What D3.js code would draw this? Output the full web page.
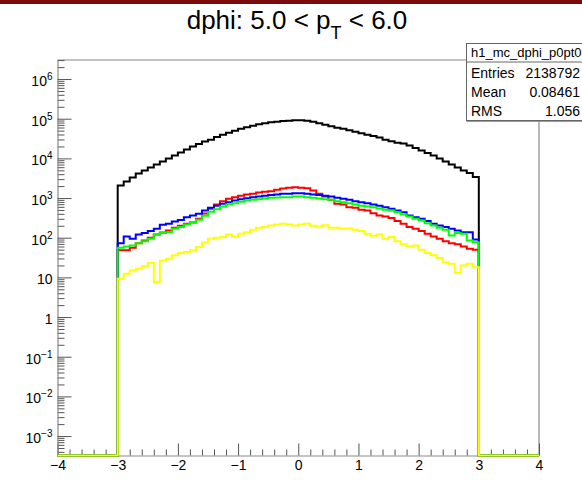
<!DOCTYPE html>
<html><head><meta charset="utf-8">
<script src="https://cdn.jsdelivr.net/npm/d3@7"></script>
<style>body{margin:0;background:#fff}svg{display:block}text{font-family:"Liberation Sans",Arial,Helvetica,sans-serif}</style>
</head><body><div id="c"></div>
<script>
// ---- data ----
const histName = "h1_mc_dphi_p0pt0";
const statLabels = ["Entries", "Mean", "RMS"];
const statValues = ["2138792", "0.08461", "1.056"];
const xStart = -3, binWidth = 0.1;            // filled bins span -3..3
const xTicksMajor = [-4, -3, -2, -1, 0, 1, 2, 3, 4];
const yDecades = [-3, -2, -1, 0, 1, 2, 3, 4, 5, 6];
const seriesColors = ["#000000", "#ff0000", "#0000ff", "#00ff00", "#ffff00"];
const blackCounts = [2070,2610,3290,4150,4930,5870,6980,8310,9890,11760,13990,16650,19810,22900,26480,29700,34350,39700,44560,50000,56200,61250,66850,72900,77300,80900,84300,87800,89300,92000,92000,89300,84300,77300,70800,65000,59600,56200,51500,47200,43300,39700,36400,33400,29700,27200,24950,23550,21000,18150,15700,13600,11760,9890,8310,6980,5870,4930,4270,3390];
const redCounts = [48,48,56,73,85,100,121,136,153,178,200,225,243,301,409,537,688,833,958,1050,1139,1228,1279,1379,1436,1487,1612,1739,1811,1875,1811,1769,1549,1279,1094,904,717,688,589,569,506,486,416,364,343,315,262,225,185,168,147,126,108,94,82,73,68,60,53,50];
const blueCounts = [73,108,94,121,131,147,168,212,225,257,281,330,364,402,486,569,638,717,787,868,936,991,1050,1094,1139,1193,1228,1279,1279,1324,1324,1279,1228,1193,1139,1094,1015,958,904,833,787,742,688,638,589,537,486,441,364,330,301,262,225,204,185,168,153,138,138,90];
const greenCounts = [56,60,64,73,82,94,121,131,138,168,185,216,247,284,360,450,524,613,688,742,805,868,904,936,974,1015,1032,1050,1050,1094,1094,1050,1015,974,936,904,833,787,742,688,638,613,589,546,506,486,441,386,343,301,272,233,204,178,159,114,131,126,85,77];
const yellowCounts = [9.3,12.4,15.0,16.6,19.0,23.0,7.6,26.8,29.6,35.9,41,43.4,48,58,76,94,100,104,121,108,126,138,159,178,185,204,216,225,216,204,216,225,200,192,207,178,178,168,171,159,147,126,112,121,94,104,82,68,60,64,50,41,36,31,24,22,12.9,20,22,18];
const allSeries = [blackCounts, redCounts, blueCounts, greenCounts, yellowCounts];

// ---- layout ----
const W = 582, H = 480;
const F = {l: 57.5, r: 539, t: 60, b: 455.5};
const svg = d3.select("#c").append("svg").attr("width", W).attr("height", H);
svg.append("rect").attr("x",0).attr("y",0).attr("width",W).attr("height",H).attr("fill","#fff");
svg.append("rect").attr("x",0).attr("y",0).attr("width",W).attr("height",4).attr("fill","#7d0a0a");

const x = d3.scaleLinear().domain([-4, 4]).range([F.l, F.r]);
const y = d3.scaleLog().domain([Math.pow(10,-3.49), Math.pow(10,6.48)]).range([F.b, F.t]);

// frame
svg.append("path").attr("d",`M${F.l},${F.t}H${F.r}V${F.b}`).attr("fill","none").attr("stroke","#8a8a8a").attr("stroke-width",1.2);

// x axis
const xMinor = d3.range(-40, 41, 2).map(d => d/10).filter(d => !xTicksMajor.includes(d));
const gx = svg.append("g").attr("transform",`translate(0,${F.b})`);
gx.append("g").call(d3.axisBottom(x).tickValues(xMinor).tickSize(-6).tickSizeOuter(0).tickFormat(""))
  .call(g => g.select(".domain").remove());
gx.append("g").call(d3.axisBottom(x).tickValues(xTicksMajor).tickSize(-12).tickSizeOuter(0).tickPadding(5)
  .tickFormat(d => d < 0 ? "\u2212" + Math.abs(d) : String(d)))
  .call(g => g.select(".domain").attr("stroke","#8a8a8a").attr("stroke-width",1.2));
gx.selectAll(".tick line").attr("stroke","#555");
gx.selectAll("text").attr("font-size",14).attr("fill","#000").attr("font-family","Liberation Sans, Arial, sans-serif");

// y axis
const yMajorVals = yDecades.map(k => Math.pow(10, k));
const yMinorVals = [];
d3.range(-4, 7).forEach(k => { for (let m = 2; m <= 9; m++) { const v = m * Math.pow(10, k); if (v > y.domain()[0] && v < y.domain()[1]) yMinorVals.push(v); } });
const gy = svg.append("g").attr("transform",`translate(${F.l},0)`);
gy.append("g").call(d3.axisLeft(y).tickValues(yMinorVals).tickSize(-7).tickSizeOuter(0).tickFormat(""))
  .call(g => g.select(".domain").remove());
gy.append("g").call(d3.axisLeft(y).tickValues(yMajorVals).tickSize(-14).tickSizeOuter(0).tickPadding(5).tickFormat(""))
  .call(g => g.select(".domain").attr("stroke","#8a8a8a").attr("stroke-width",1.2));
gy.selectAll(".tick line").attr("stroke","#555");
// labels
const gyl = svg.append("g");
yDecades.forEach(k => {
  const t = gyl.append("text").attr("x", F.l - 5).attr("y", y(Math.pow(10,k)) + 7)
    .attr("text-anchor","end").attr("font-size",14).attr("fill","#000");
  if (k === 0) t.text("1");
  else if (k === 1) t.text("10");
  else {
    t.append("tspan").text("10");
    t.append("tspan").attr("dy",-6).attr("font-size",10).text(k < 0 ? "\u2212" + Math.abs(k) : String(k));
  }
});

// histograms
const line = d3.line();
function histPoints(vals) {
  const yv = v => v > 0 ? Math.min(y(v), F.b) : F.b;
  const pts = [[x(-4), F.b], [x(xStart), F.b]];
  vals.forEach((v, i) => {
    const x0 = xStart + i * binWidth, x1 = xStart + (i + 1) * binWidth;
    pts.push([x(x0), yv(v)], [x(x1), yv(v)]);
  });
  const xEnd = xStart + vals.length * binWidth;
  pts.push([x(xEnd), F.b], [x(4), F.b]);
  return pts;
}
svg.append("g").selectAll("path").data(allSeries).join("path")
  .attr("d", d => line(histPoints(d)))
  .attr("fill","none").attr("stroke",(d,i) => seriesColors[i]).attr("stroke-width",2)
  .attr("stroke-linejoin","miter");

// title
const title = svg.append("text").attr("x", 297).attr("y", 29).attr("text-anchor","middle").attr("font-size",26).attr("fill","#000");
title.append("tspan").text("dphi: 5.0 < p");
title.append("tspan").attr("dy",10).attr("font-size",18).text("T");
title.append("tspan").attr("dy",-10).text(" < 6.0");

// stats box
const sb = svg.append("g");
sb.append("rect").attr("x",466.5).attr("y",43.5).attr("width",140).attr("height",77).attr("fill","#fff").attr("stroke","#666").attr("stroke-width",1);
sb.append("line").attr("x1",466.5).attr("x2",600).attr("y1",121.5).attr("y2",121.5).attr("stroke","#999");
sb.append("line").attr("x1",466.5).attr("x2",600).attr("y1",62).attr("y2",62).attr("stroke","#666");
sb.append("text").attr("x",471).attr("y",57).attr("font-size",13).attr("fill","#000").text(histName);
statLabels.forEach((s,i) => {
  sb.append("text").attr("x",471).attr("y",77.5 + i*19).attr("font-size",14).attr("fill","#000").text(s);
  sb.append("text").attr("x",580).attr("y",77.5 + i*19).attr("font-size",14).attr("text-anchor","end").attr("fill","#000").text(statValues[i]);
});
</script></body></html>
